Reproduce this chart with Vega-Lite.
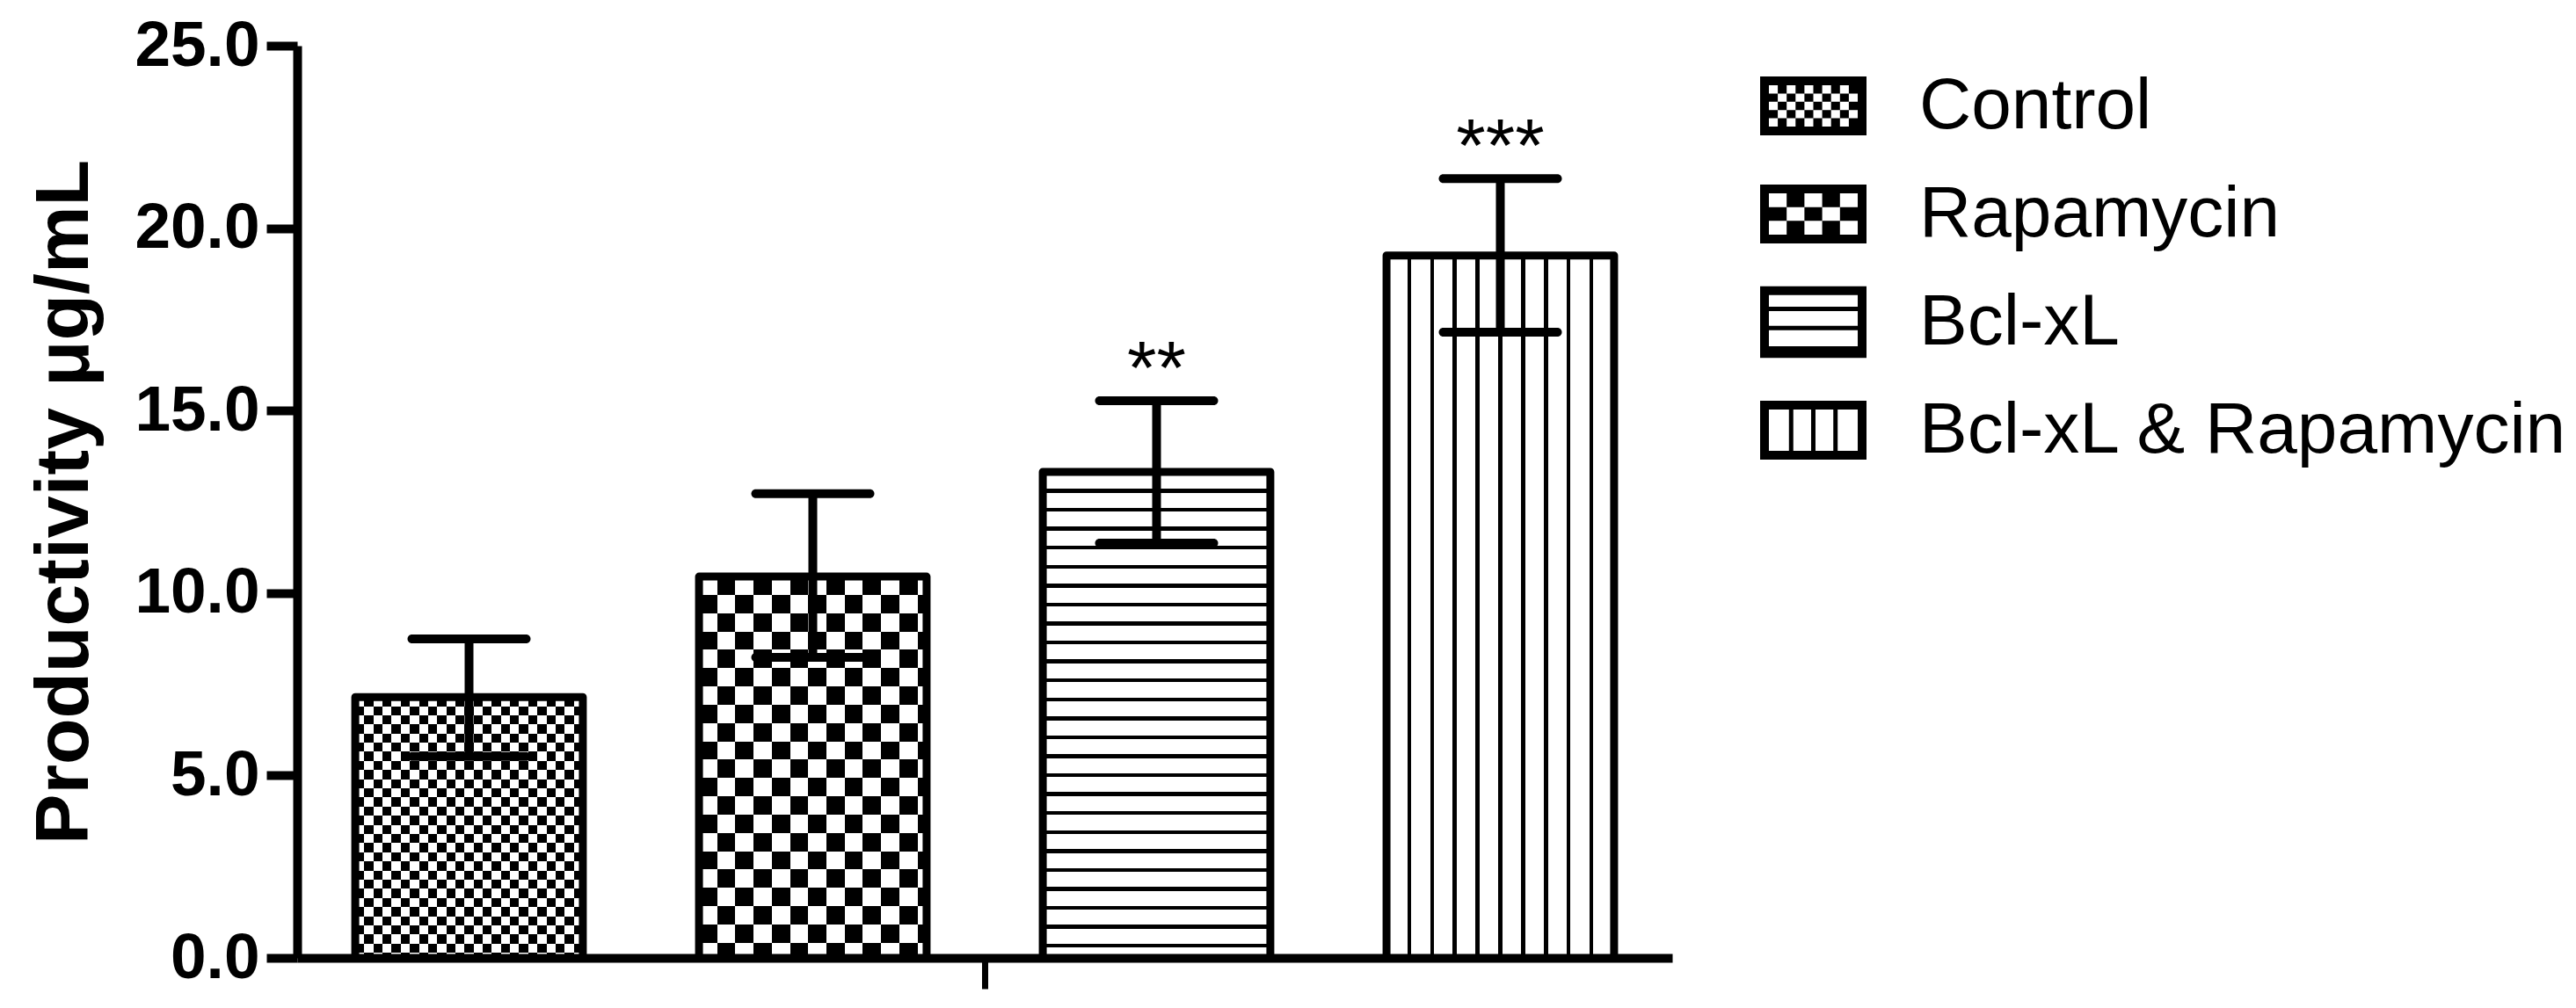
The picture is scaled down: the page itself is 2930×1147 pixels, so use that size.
{
  "$schema": "https://vega.github.io/schema/vega-lite/v6.json",
  "width": 1564,
  "height": 1038,
  "autosize": {"type": "none"},
  "padding": {"left": 338, "top": 52, "right": 1028, "bottom": 57},
  "background": "white",
  "config": {"view": {"stroke": null}, "font": "Liberation Sans"},
  "data": {
    "values": [
      {"group": "Control", "mean": 7.15, "lower": 5.52, "upper": 8.74, "sig": ""},
      {"group": "Rapamycin", "mean": 10.45, "lower": 8.24, "upper": 12.72, "sig": ""},
      {"group": "Bcl-xL", "mean": 13.32, "lower": 11.37, "upper": 15.27, "sig": "**"},
      {"group": "Bcl-xL & Rapamycin", "mean": 19.25, "lower": 17.15, "upper": 21.36, "sig": "***"}
    ]
  },
  "encoding": {
    "x": {
      "field": "group", "type": "nominal", "sort": null, "title": null,
      "scale": {"paddingInner": 0.338, "paddingOuter": 0.169},
      "axis": {"values": ["Rapamycin"], "tickOffset": 195.5, "labels": false, "domainWidth": 10, "domainColor": "black", "tickSize": 35, "tickWidth": 7, "tickColor": "black", "grid": false, "title": null}
    },
    "y": {
      "field": "mean", "type": "quantitative", "title": "Productivity μg/mL",
      "scale": {"domain": [0, 25], "nice": false},
      "axis": {"values": [0, 5, 10, 15, 20, 25], "format": ".1f", "labelFont": "Liberation Sans", "labelFontSize": 73, "labelFontWeight": "bold", "labelColor": "black", "labelPadding": 8, "tickSize": 35, "tickWidth": 10, "tickColor": "black", "domainColor": "black", "domainWidth": 10, "grid": false, "titleFont": "Liberation Sans", "titleFontSize": 86, "titleFontWeight": "bold", "titleColor": "black", "titlePadding": 35, "labelOverlap": false}
    }
  },
  "layer": [
    {
      "transform": [{"filter": {"field": "group", "equal": "Control"}}],
      "mark": {"type": "bar", "fill": {"gradient": "linear", "x1": 0, "y1": 0, "x2": 0, "y2": 1, "stops": [
        {"offset": 0, "color": "#000"},
        {"offset": 0.035, "color": "#000"}, {"offset": 0.035, "color": "#fff"},
        {"offset": 0.07, "color": "#fff"}, {"offset": 0.07, "color": "#000"},
        {"offset": 0.105, "color": "#000"}, {"offset": 0.105, "color": "#fff"},
        {"offset": 0.14, "color": "#fff"}, {"offset": 0.14, "color": "#000"},
        {"offset": 0.175, "color": "#000"}, {"offset": 0.175, "color": "#fff"},
        {"offset": 0.21, "color": "#fff"}, {"offset": 0.21, "color": "#000"},
        {"offset": 0.245, "color": "#000"}, {"offset": 0.245, "color": "#fff"},
        {"offset": 0.28, "color": "#fff"}, {"offset": 0.28, "color": "#000"},
        {"offset": 0.315, "color": "#000"}, {"offset": 0.315, "color": "#fff"},
        {"offset": 0.35, "color": "#fff"}, {"offset": 0.35, "color": "#000"},
        {"offset": 0.385, "color": "#000"}, {"offset": 0.385, "color": "#fff"},
        {"offset": 0.42, "color": "#fff"}, {"offset": 0.42, "color": "#000"},
        {"offset": 0.455, "color": "#000"}, {"offset": 0.455, "color": "#fff"},
        {"offset": 0.49, "color": "#fff"}, {"offset": 0.49, "color": "#000"},
        {"offset": 0.525, "color": "#000"}, {"offset": 0.525, "color": "#fff"},
        {"offset": 0.56, "color": "#fff"}, {"offset": 0.56, "color": "#000"},
        {"offset": 0.595, "color": "#000"}, {"offset": 0.595, "color": "#fff"},
        {"offset": 0.63, "color": "#fff"}, {"offset": 0.63, "color": "#000"},
        {"offset": 0.665, "color": "#000"}, {"offset": 0.665, "color": "#fff"},
        {"offset": 0.7, "color": "#fff"}, {"offset": 0.7, "color": "#000"},
        {"offset": 0.735, "color": "#000"}, {"offset": 0.735, "color": "#fff"},
        {"offset": 0.77, "color": "#fff"}, {"offset": 0.77, "color": "#000"},
        {"offset": 0.805, "color": "#000"}, {"offset": 0.805, "color": "#fff"},
        {"offset": 0.84, "color": "#fff"}, {"offset": 0.84, "color": "#000"},
        {"offset": 0.875, "color": "#000"}, {"offset": 0.875, "color": "#fff"},
        {"offset": 0.91, "color": "#fff"}, {"offset": 0.91, "color": "#000"},
        {"offset": 0.945, "color": "#000"}, {"offset": 0.945, "color": "#fff"},
        {"offset": 0.98, "color": "#fff"}, {"offset": 0.98, "color": "#000"},
        {"offset": 1, "color": "#000"}
      ]}}
    },
    {
      "transform": [{"filter": {"field": "group", "equal": "Rapamycin"}}],
      "mark": {"type": "bar", "fill": {"gradient": "linear", "x1": 0, "y1": 0, "x2": 0, "y2": 1, "stops": [
        {"offset": 0, "color": "#000"},
        {"offset": 0.048, "color": "#000"}, {"offset": 0.048, "color": "#fff"},
        {"offset": 0.096, "color": "#fff"}, {"offset": 0.096, "color": "#000"},
        {"offset": 0.144, "color": "#000"}, {"offset": 0.144, "color": "#fff"},
        {"offset": 0.192, "color": "#fff"}, {"offset": 0.192, "color": "#000"},
        {"offset": 0.24, "color": "#000"}, {"offset": 0.24, "color": "#fff"},
        {"offset": 0.288, "color": "#fff"}, {"offset": 0.288, "color": "#000"},
        {"offset": 0.336, "color": "#000"}, {"offset": 0.336, "color": "#fff"},
        {"offset": 0.384, "color": "#fff"}, {"offset": 0.384, "color": "#000"},
        {"offset": 0.432, "color": "#000"}, {"offset": 0.432, "color": "#fff"},
        {"offset": 0.48, "color": "#fff"}, {"offset": 0.48, "color": "#000"},
        {"offset": 0.528, "color": "#000"}, {"offset": 0.528, "color": "#fff"},
        {"offset": 0.576, "color": "#fff"}, {"offset": 0.576, "color": "#000"},
        {"offset": 0.624, "color": "#000"}, {"offset": 0.624, "color": "#fff"},
        {"offset": 0.672, "color": "#fff"}, {"offset": 0.672, "color": "#000"},
        {"offset": 0.72, "color": "#000"}, {"offset": 0.72, "color": "#fff"},
        {"offset": 0.768, "color": "#fff"}, {"offset": 0.768, "color": "#000"},
        {"offset": 0.816, "color": "#000"}, {"offset": 0.816, "color": "#fff"},
        {"offset": 0.864, "color": "#fff"}, {"offset": 0.864, "color": "#000"},
        {"offset": 0.912, "color": "#000"}, {"offset": 0.912, "color": "#fff"},
        {"offset": 0.96, "color": "#fff"}, {"offset": 0.96, "color": "#000"},
        {"offset": 1, "color": "#000"}
      ]}}
    },
    {
      "transform": [{"filter": {"field": "group", "equal": "Bcl-xL"}}],
      "mark": {"type": "bar", "fill": {"gradient": "linear", "x1": 0, "y1": 0, "x2": 0, "y2": 1, "stops": [
        {"offset": 0, "color": "#fff"},
        {"offset": 0.035, "color": "#fff"}, {"offset": 0.035, "color": "#000"}, {"offset": 0.043, "color": "#000"}, {"offset": 0.043, "color": "#fff"},
        {"offset": 0.074, "color": "#fff"}, {"offset": 0.074, "color": "#000"}, {"offset": 0.082, "color": "#000"}, {"offset": 0.082, "color": "#fff"},
        {"offset": 0.113, "color": "#fff"}, {"offset": 0.113, "color": "#000"}, {"offset": 0.121, "color": "#000"}, {"offset": 0.121, "color": "#fff"},
        {"offset": 0.152, "color": "#fff"}, {"offset": 0.152, "color": "#000"}, {"offset": 0.16, "color": "#000"}, {"offset": 0.16, "color": "#fff"},
        {"offset": 0.191, "color": "#fff"}, {"offset": 0.191, "color": "#000"}, {"offset": 0.199, "color": "#000"}, {"offset": 0.199, "color": "#fff"},
        {"offset": 0.23, "color": "#fff"}, {"offset": 0.23, "color": "#000"}, {"offset": 0.238, "color": "#000"}, {"offset": 0.238, "color": "#fff"},
        {"offset": 0.269, "color": "#fff"}, {"offset": 0.269, "color": "#000"}, {"offset": 0.277, "color": "#000"}, {"offset": 0.277, "color": "#fff"},
        {"offset": 0.308, "color": "#fff"}, {"offset": 0.308, "color": "#000"}, {"offset": 0.316, "color": "#000"}, {"offset": 0.316, "color": "#fff"},
        {"offset": 0.347, "color": "#fff"}, {"offset": 0.347, "color": "#000"}, {"offset": 0.355, "color": "#000"}, {"offset": 0.355, "color": "#fff"},
        {"offset": 0.386, "color": "#fff"}, {"offset": 0.386, "color": "#000"}, {"offset": 0.394, "color": "#000"}, {"offset": 0.394, "color": "#fff"},
        {"offset": 0.425, "color": "#fff"}, {"offset": 0.425, "color": "#000"}, {"offset": 0.433, "color": "#000"}, {"offset": 0.433, "color": "#fff"},
        {"offset": 0.464, "color": "#fff"}, {"offset": 0.464, "color": "#000"}, {"offset": 0.472, "color": "#000"}, {"offset": 0.472, "color": "#fff"},
        {"offset": 0.503, "color": "#fff"}, {"offset": 0.503, "color": "#000"}, {"offset": 0.511, "color": "#000"}, {"offset": 0.511, "color": "#fff"},
        {"offset": 0.542, "color": "#fff"}, {"offset": 0.542, "color": "#000"}, {"offset": 0.55, "color": "#000"}, {"offset": 0.55, "color": "#fff"},
        {"offset": 0.581, "color": "#fff"}, {"offset": 0.581, "color": "#000"}, {"offset": 0.589, "color": "#000"}, {"offset": 0.589, "color": "#fff"},
        {"offset": 0.62, "color": "#fff"}, {"offset": 0.62, "color": "#000"}, {"offset": 0.628, "color": "#000"}, {"offset": 0.628, "color": "#fff"},
        {"offset": 0.659, "color": "#fff"}, {"offset": 0.659, "color": "#000"}, {"offset": 0.667, "color": "#000"}, {"offset": 0.667, "color": "#fff"},
        {"offset": 0.698, "color": "#fff"}, {"offset": 0.698, "color": "#000"}, {"offset": 0.706, "color": "#000"}, {"offset": 0.706, "color": "#fff"},
        {"offset": 0.737, "color": "#fff"}, {"offset": 0.737, "color": "#000"}, {"offset": 0.745, "color": "#000"}, {"offset": 0.745, "color": "#fff"},
        {"offset": 0.776, "color": "#fff"}, {"offset": 0.776, "color": "#000"}, {"offset": 0.784, "color": "#000"}, {"offset": 0.784, "color": "#fff"},
        {"offset": 0.815, "color": "#fff"}, {"offset": 0.815, "color": "#000"}, {"offset": 0.823, "color": "#000"}, {"offset": 0.823, "color": "#fff"},
        {"offset": 0.854, "color": "#fff"}, {"offset": 0.854, "color": "#000"}, {"offset": 0.862, "color": "#000"}, {"offset": 0.862, "color": "#fff"},
        {"offset": 0.893, "color": "#fff"}, {"offset": 0.893, "color": "#000"}, {"offset": 0.901, "color": "#000"}, {"offset": 0.901, "color": "#fff"},
        {"offset": 0.932, "color": "#fff"}, {"offset": 0.932, "color": "#000"}, {"offset": 0.94, "color": "#000"}, {"offset": 0.94, "color": "#fff"},
        {"offset": 0.971, "color": "#fff"}, {"offset": 0.971, "color": "#000"}, {"offset": 0.979, "color": "#000"}, {"offset": 0.979, "color": "#fff"},
        {"offset": 1, "color": "#fff"}
      ]}}
    },
    {
      "transform": [{"filter": {"field": "group", "equal": "Bcl-xL & Rapamycin"}}],
      "mark": {"type": "bar", "fill": {"gradient": "linear", "x1": 0, "y1": 0, "x2": 1, "y2": 0, "stops": [
        {"offset": 0, "color": "#fff"},
        {"offset": 0.091, "color": "#fff"}, {"offset": 0.091, "color": "#000"}, {"offset": 0.109, "color": "#000"}, {"offset": 0.109, "color": "#fff"},
        {"offset": 0.191, "color": "#fff"}, {"offset": 0.191, "color": "#000"}, {"offset": 0.209, "color": "#000"}, {"offset": 0.209, "color": "#fff"},
        {"offset": 0.291, "color": "#fff"}, {"offset": 0.291, "color": "#000"}, {"offset": 0.309, "color": "#000"}, {"offset": 0.309, "color": "#fff"},
        {"offset": 0.391, "color": "#fff"}, {"offset": 0.391, "color": "#000"}, {"offset": 0.409, "color": "#000"}, {"offset": 0.409, "color": "#fff"},
        {"offset": 0.491, "color": "#fff"}, {"offset": 0.491, "color": "#000"}, {"offset": 0.509, "color": "#000"}, {"offset": 0.509, "color": "#fff"},
        {"offset": 0.591, "color": "#fff"}, {"offset": 0.591, "color": "#000"}, {"offset": 0.609, "color": "#000"}, {"offset": 0.609, "color": "#fff"},
        {"offset": 0.691, "color": "#fff"}, {"offset": 0.691, "color": "#000"}, {"offset": 0.709, "color": "#000"}, {"offset": 0.709, "color": "#fff"},
        {"offset": 0.791, "color": "#fff"}, {"offset": 0.791, "color": "#000"}, {"offset": 0.809, "color": "#000"}, {"offset": 0.809, "color": "#fff"},
        {"offset": 0.891, "color": "#fff"}, {"offset": 0.891, "color": "#000"}, {"offset": 0.909, "color": "#000"}, {"offset": 0.909, "color": "#fff"},
        {"offset": 1, "color": "#fff"}
      ]}}
    },
    {
      "transform": [{"filter": {"field": "group", "equal": "Control"}}],
      "mark": {"type": "bar", "blend": "difference", "fill": {"gradient": "linear", "x1": 0, "y1": 0, "x2": 1, "y2": 0, "stops": [
        {"offset": 0, "color": "#fff"},
        {"offset": 0.04, "color": "#fff"}, {"offset": 0.04, "color": "#000"},
        {"offset": 0.08, "color": "#000"}, {"offset": 0.08, "color": "#fff"},
        {"offset": 0.12, "color": "#fff"}, {"offset": 0.12, "color": "#000"},
        {"offset": 0.16, "color": "#000"}, {"offset": 0.16, "color": "#fff"},
        {"offset": 0.2, "color": "#fff"}, {"offset": 0.2, "color": "#000"},
        {"offset": 0.24, "color": "#000"}, {"offset": 0.24, "color": "#fff"},
        {"offset": 0.28, "color": "#fff"}, {"offset": 0.28, "color": "#000"},
        {"offset": 0.32, "color": "#000"}, {"offset": 0.32, "color": "#fff"},
        {"offset": 0.36, "color": "#fff"}, {"offset": 0.36, "color": "#000"},
        {"offset": 0.4, "color": "#000"}, {"offset": 0.4, "color": "#fff"},
        {"offset": 0.44, "color": "#fff"}, {"offset": 0.44, "color": "#000"},
        {"offset": 0.48, "color": "#000"}, {"offset": 0.48, "color": "#fff"},
        {"offset": 0.52, "color": "#fff"}, {"offset": 0.52, "color": "#000"},
        {"offset": 0.56, "color": "#000"}, {"offset": 0.56, "color": "#fff"},
        {"offset": 0.6, "color": "#fff"}, {"offset": 0.6, "color": "#000"},
        {"offset": 0.64, "color": "#000"}, {"offset": 0.64, "color": "#fff"},
        {"offset": 0.68, "color": "#fff"}, {"offset": 0.68, "color": "#000"},
        {"offset": 0.72, "color": "#000"}, {"offset": 0.72, "color": "#fff"},
        {"offset": 0.76, "color": "#fff"}, {"offset": 0.76, "color": "#000"},
        {"offset": 0.8, "color": "#000"}, {"offset": 0.8, "color": "#fff"},
        {"offset": 0.84, "color": "#fff"}, {"offset": 0.84, "color": "#000"},
        {"offset": 0.88, "color": "#000"}, {"offset": 0.88, "color": "#fff"},
        {"offset": 0.92, "color": "#fff"}, {"offset": 0.92, "color": "#000"},
        {"offset": 0.96, "color": "#000"}, {"offset": 0.96, "color": "#fff"},
        {"offset": 1, "color": "#fff"}
      ]}}
    },
    {
      "transform": [{"filter": {"field": "group", "equal": "Rapamycin"}}],
      "mark": {"type": "bar", "blend": "difference", "fill": {"gradient": "linear", "x1": 0, "y1": 0, "x2": 1, "y2": 0, "stops": [
        {"offset": 0, "color": "#fff"},
        {"offset": 0.08, "color": "#fff"}, {"offset": 0.08, "color": "#000"},
        {"offset": 0.16, "color": "#000"}, {"offset": 0.16, "color": "#fff"},
        {"offset": 0.24, "color": "#fff"}, {"offset": 0.24, "color": "#000"},
        {"offset": 0.32, "color": "#000"}, {"offset": 0.32, "color": "#fff"},
        {"offset": 0.4, "color": "#fff"}, {"offset": 0.4, "color": "#000"},
        {"offset": 0.48, "color": "#000"}, {"offset": 0.48, "color": "#fff"},
        {"offset": 0.56, "color": "#fff"}, {"offset": 0.56, "color": "#000"},
        {"offset": 0.64, "color": "#000"}, {"offset": 0.64, "color": "#fff"},
        {"offset": 0.72, "color": "#fff"}, {"offset": 0.72, "color": "#000"},
        {"offset": 0.8, "color": "#000"}, {"offset": 0.8, "color": "#fff"},
        {"offset": 0.88, "color": "#fff"}, {"offset": 0.88, "color": "#000"},
        {"offset": 0.96, "color": "#000"}, {"offset": 0.96, "color": "#fff"},
        {"offset": 1, "color": "#fff"}
      ]}}
    },
    {
      "mark": {"type": "bar", "filled": false, "color": "black", "strokeWidth": 9, "strokeJoin": "round"}
    },
    {
      "mark": {"type": "rule", "color": "black", "strokeWidth": 10},
      "encoding": {
        "y": {"field": "lower", "type": "quantitative", "title": "Productivity μg/mL"},
        "y2": {"field": "upper"}
      }
    },
    {
      "mark": {"type": "tick", "color": "black", "orient": "horizontal", "size": 140, "thickness": 10, "cornerRadius": 5, "opacity": 1},
      "encoding": {"y": {"field": "upper", "type": "quantitative", "title": "Productivity μg/mL"}}
    },
    {
      "mark": {"type": "tick", "color": "black", "orient": "horizontal", "size": 140, "thickness": 10, "cornerRadius": 5, "opacity": 1},
      "encoding": {"y": {"field": "lower", "type": "quantitative", "title": "Productivity μg/mL"}}
    },
    {
      "mark": {"type": "text", "font": "Liberation Sans", "fontSize": 86, "color": "black", "baseline": "alphabetic", "align": "center", "dy": -8},
      "encoding": {
        "y": {"field": "upper", "type": "quantitative", "title": "Productivity μg/mL"},
        "text": {"field": "sig"}
      }
    },
    {
      "mark": {"type": "point", "filled": true, "color": "black", "opacity": 0, "size": 14641},
      "encoding": {
        "shape": {
          "field": "group", "type": "nominal", "sort": null,
          "scale": {
            "domain": ["Control", "Rapamycin", "Bcl-xL", "Bcl-xL & Rapamycin"],
            "range": [
              "M-1,-0.554H1V0.554H-1Z M-0.835,-0.388V0.388H0.835V-0.388Z M-0.668,-0.388h0.167v0.1552h-0.167Z M-0.334,-0.388h0.167v0.1552h-0.167Z M0,-0.388h0.167v0.1552h-0.167Z M0.334,-0.388h0.167v0.1552h-0.167Z M0.668,-0.388h0.167v0.1552h-0.167Z M-0.835,-0.2328h0.167v0.1552h-0.167Z M-0.501,-0.2328h0.167v0.1552h-0.167Z M-0.167,-0.2328h0.167v0.1552h-0.167Z M0.167,-0.2328h0.167v0.1552h-0.167Z M0.501,-0.2328h0.167v0.1552h-0.167Z M-0.668,-0.0776h0.167v0.1552h-0.167Z M-0.334,-0.0776h0.167v0.1552h-0.167Z M0,-0.0776h0.167v0.1552h-0.167Z M0.334,-0.0776h0.167v0.1552h-0.167Z M0.668,-0.0776h0.167v0.1552h-0.167Z M-0.835,0.0776h0.167v0.1552h-0.167Z M-0.501,0.0776h0.167v0.1552h-0.167Z M-0.167,0.0776h0.167v0.1552h-0.167Z M0.167,0.0776h0.167v0.1552h-0.167Z M0.501,0.0776h0.167v0.1552h-0.167Z M-0.668,0.2328h0.167v0.1552h-0.167Z M-0.334,0.2328h0.167v0.1552h-0.167Z M0,0.2328h0.167v0.1552h-0.167Z M0.334,0.2328h0.167v0.1552h-0.167Z M0.668,0.2328h0.167v0.1552h-0.167Z",
              "M-1,-0.554H1V0.554H-1Z M-0.835,-0.388V0.388H0.835V-0.388Z M-0.501,-0.388h0.334v0.2587h-0.334Z M0.167,-0.388h0.334v0.2587h-0.334Z M-0.835,-0.1293h0.334v0.2587h-0.334Z M-0.167,-0.1293h0.334v0.2587h-0.334Z M0.501,-0.1293h0.334v0.2587h-0.334Z M-0.501,0.1293h0.334v0.2587h-0.334Z M0.167,0.1293h0.334v0.2587h-0.334Z",
              "M-1,-0.675H1V0.675H-1Z M-0.835,-0.51V0.454H0.835V-0.51Z M-0.835,-0.289H0.835V-0.207H-0.835Z M-0.835,0.069H0.835V0.151H-0.835Z",
              "M-1,-0.554H1V0.554H-1Z M-0.835,-0.388V0.388H0.835V-0.388Z M-0.458,-0.388H-0.376V0.388H-0.458Z M-0.041,-0.388H0.041V0.388H-0.041Z M0.376,-0.388H0.458V0.388H0.376Z"
            ]
          },
          "legend": {
            "title": null, "orient": "none", "legendX": 1664, "legendY": 8, "direction": "vertical",
            "padding": 0, "rowPadding": 21, "symbolSize": 14641, "symbolFillColor": "black",
            "symbolStrokeColor": "transparent", "symbolStrokeWidth": 0, "symbolOpacity": 1, "symbolOffset": 0,
            "labelFont": "Liberation Sans", "labelFontSize": 82, "labelColor": "black", "labelOffset": 60,
            "labelLimit": 2000, "labelBaseline": "middle"
          }
        }
      }
    }
  ]
}
